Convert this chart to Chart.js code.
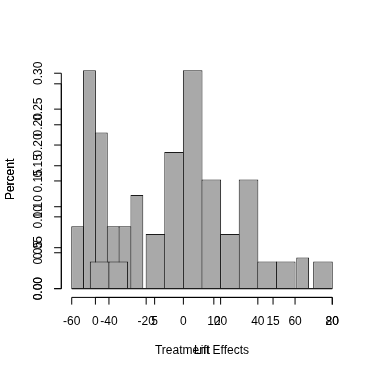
<!DOCTYPE html>
<html><head><meta charset="utf-8">
<script src="https://cdn.jsdelivr.net/npm/chart.js@4.4.0/dist/chart.umd.min.js"></script>
<style>html,body{margin:0;padding:0;background:#fff;}canvas{display:block;}</style>
</head><body>
<canvas id="c" width="374" height="374"></canvas>
<script>
// Histogram "Treatment Effects": bins of width 10, share of observations per bin
const effectBinStarts = [-60, -50, -40, -30, -20, -10, 0, 10, 20, 30, 40, 50, 60, 70];
const effectBinWidth = 10;
const effectShares = [0, 0.0333, 0.0333, 0, 0.0667, 0.1667, 0.2667, 0.1333, 0.0667, 0.1333, 0.0333, 0.0333, 0, 0.0333];

// Histogram "Lift": bins of width 1
const liftBinStarts = [-2, -1, 0, 1, 2, 3, 4, 5, 6, 7, 8, 9, 10, 11, 12, 13, 14, 15, 16, 17, 18, 19];
const liftBinWidth = 1;
const liftShares = [0.0870, 0.3043, 0.2174, 0.0870, 0.0870, 0.1304, 0, 0, 0, 0, 0, 0, 0, 0, 0, 0, 0, 0, 0, 0.0435, 0, 0];

// Tick values and labels (an empty label = tick drawn without text, as in the reference)
const effectTicks = [-60, -40, -20, 0, 20, 40, 60, 80];
const effectTickLabels = ['-60', '-40', '-20', '0', '20', '40', '60', '80'];
const liftTicks = [0, 5, 10, 15, 20];
const liftTickLabels = ['0', '5', '10', '15', '20'];
const liftShareTicks = [0, 0.05, 0.10, 0.15, 0.20, 0.25, 0.30];
const liftShareTickLabels = ['0.00', '0.05', '0.10', '0.15', '0.20', '0.25', '0.30'];
const effectShareTicks = [0, 0.05, 0.10, 0.15, 0.20, 0.25];
const effectShareTickLabels = ['0.00', '0.05', '0.10', '0.15', '0.20', ''];

const xTitleEffect = 'Treatment Effects';
const xTitleLift = 'Lift';
const yTitle = 'Percent';

// R-style 4% axis extension
function ext(lo, hi) { const d = (hi - lo) * 0.04; return [lo - d, hi + d]; }
const effXR = ext(effectBinStarts[0], effectBinStarts[effectBinStarts.length - 1] + effectBinWidth);
const liftXR = ext(liftBinStarts[0], liftBinStarts[liftBinStarts.length - 1] + liftBinWidth);
const effYR = ext(0, Math.max(...effectShares));
const liftYR = ext(0, Math.max(...liftShares));

const FONT = '12px "Liberation Sans", Arimo, Helvetica, Arial, sans-serif';
const TICK = 7.2;

const rAxes = {
  id: 'rAxes',
  afterDatasetsDraw(chart) {
    const ctx = chart.ctx, s = chart.scales, ca = chart.chartArea;
    ctx.save();
    ctx.strokeStyle = '#000'; ctx.fillStyle = '#000'; ctx.lineWidth = 1;
    ctx.font = FONT;
    const seg = (x1, y1, x2, y2) => { ctx.beginPath(); ctx.moveTo(x1, y1); ctx.lineTo(x2, y2); ctx.stroke(); };
    // baselines of the histograms (zero-height bins)
    ctx.strokeStyle = '#1a1a1a';
    seg(s.xL.getPixelForValue(liftBinStarts[0]), s.yL.getPixelForValue(0),
        s.xL.getPixelForValue(liftBinStarts[liftBinStarts.length - 1] + liftBinWidth), s.yL.getPixelForValue(0));
    seg(s.xE.getPixelForValue(effectBinStarts[0]), s.yE.getPixelForValue(0),
        s.xE.getPixelForValue(effectBinStarts[effectBinStarts.length - 1] + effectBinWidth), s.yE.getPixelForValue(0));
    ctx.strokeStyle = '#000';
    // x axes
    const xAxis = (sc, ticks, labels) => {
      const yb = ca.bottom;
      seg(sc.getPixelForValue(ticks[0]), yb, sc.getPixelForValue(ticks[ticks.length - 1]), yb);
      ctx.textAlign = 'center'; ctx.textBaseline = 'middle';
      ticks.forEach((t, i) => {
        const px = sc.getPixelForValue(t);
        seg(px, yb, px, yb + TICK);
        if (labels[i]) ctx.fillText(labels[i], px, 321.5);
      });
    };
    xAxis(s.xL, liftTicks, liftTickLabels);
    xAxis(s.xE, effectTicks, effectTickLabels);
    // y axes
    const yAxis = (sc, ticks, labels) => {
      const xl = ca.left;
      seg(xl, sc.getPixelForValue(ticks[0]), xl, sc.getPixelForValue(ticks[ticks.length - 1]));
      ticks.forEach((t, i) => {
        const py = sc.getPixelForValue(t);
        seg(xl, py, xl - TICK, py);
        if (!labels[i]) return;
        ctx.save();
        ctx.translate(38.5, py); ctx.rotate(-Math.PI / 2);
        ctx.textAlign = 'center'; ctx.textBaseline = 'middle';
        ctx.fillText(labels[i], 0, 0);
        ctx.restore();
      });
    };
    yAxis(s.yL, liftShareTicks, liftShareTickLabels);
    yAxis(s.yE, effectShareTicks, effectShareTickLabels);
    // titles
    const cx = (ca.left + ca.right) / 2, cy = (ca.top + ca.bottom) / 2;
    ctx.textAlign = 'center'; ctx.textBaseline = 'middle';
    ctx.fillText(xTitleLift, cx, 350.5);
    ctx.fillText(xTitleEffect, cx, 350.5);
    ctx.save(); ctx.translate(10.5, cy); ctx.rotate(-Math.PI / 2);
    ctx.fillText(yTitle, 0, 0); ctx.fillText(yTitle, 0, 0);
    ctx.restore();
    ctx.restore();
  }
};

const setTicks = (vals) => (sc) => { sc.ticks = vals.map(v => ({ value: v })); };

new Chart(document.getElementById('c'), {
  type: 'bar',
  data: {
    datasets: [
      {
        label: xTitleEffect,
        data: effectBinStarts.map((b, i) => ({ x: b + effectBinWidth / 2, y: effectShares[i] })),
        xAxisID: 'xE', yAxisID: 'yE',
        backgroundColor: '#a9a9a9', borderColor: '#1a1a1a', borderWidth: 1, borderSkipped: 'start',
        barPercentage: 1.0538, categoryPercentage: 1, grouped: false
      },
      {
        label: xTitleLift,
        data: liftBinStarts.map((b, i) => ({ x: b + liftBinWidth / 2, y: liftShares[i] })),
        xAxisID: 'xL', yAxisID: 'yL',
        backgroundColor: '#a9a9a9', borderColor: '#1a1a1a', borderWidth: 1, borderSkipped: 'start',
        barPercentage: 1.0845, categoryPercentage: 1, grouped: false
      }
    ]
  },
  options: {
    responsive: false, animation: false, devicePixelRatio: 1,
    layout: { padding: { left: 61.3, right: 31.3, top: 61.4, bottom: 76.6 } },
    plugins: { legend: { display: false }, tooltip: { enabled: false } },
    scales: {
      xE: { type: 'linear', display: false, offset: false, grid: { offset: false }, min: effXR[0], max: effXR[1], afterBuildTicks: setTicks(effectTicks) },
      xL: { type: 'linear', display: false, offset: false, grid: { offset: false }, min: liftXR[0], max: liftXR[1], afterBuildTicks: setTicks(liftTicks) },
      yE: { type: 'linear', display: false, min: effYR[0], max: effYR[1], afterBuildTicks: setTicks(effectShareTicks) },
      yL: { type: 'linear', display: false, min: liftYR[0], max: liftYR[1], afterBuildTicks: setTicks(liftShareTicks) }
    }
  },
  plugins: [rAxes]
});
</script>
</body></html>
